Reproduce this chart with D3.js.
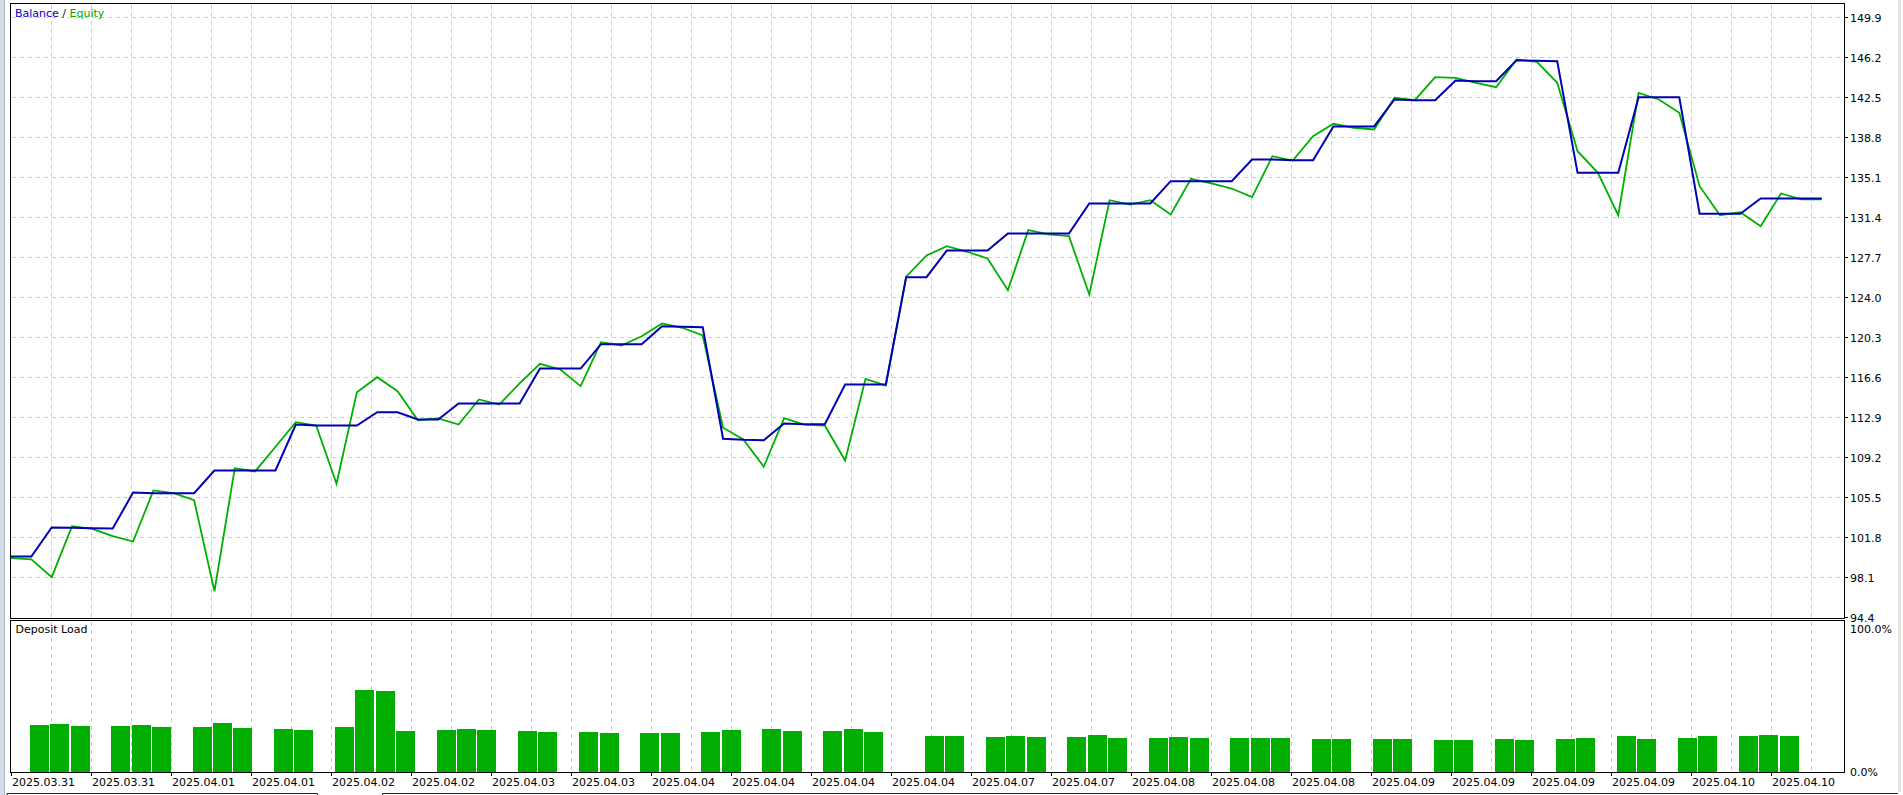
<!DOCTYPE html>
<html><head><meta charset="utf-8">
<script src="https://cdnjs.cloudflare.com/ajax/libs/d3/7.8.5/d3.min.js"></script>
<style>
html,body{margin:0;padding:0;background:#fff;overflow:hidden}
svg{display:block;font-family:"DejaVu Sans",Verdana,sans-serif;font-size:11px}
</style></head><body>
<svg id="c" width="1903" height="795"></svg>
<script>
// ---- data ----
const balance = [
100.04,100.04,102.73,102.70,102.66,102.63,105.96,105.90,105.90,105.90,
108.00,108.00,108.00,108.00,112.25,112.16,112.16,112.16,113.39,113.39,
112.72,112.72,114.20,114.20,114.20,114.20,117.43,117.43,117.43,119.68,
119.68,119.68,121.35,121.29,121.25,110.93,110.84,110.80,112.35,112.28,
112.28,115.95,115.95,115.95,125.88,125.88,128.35,128.35,128.35,129.92,
129.92,129.92,129.92,132.70,132.70,132.70,132.70,134.76,134.76,134.76,
134.76,136.77,136.77,136.70,136.70,139.82,139.82,139.82,142.32,142.25,
142.25,144.07,144.01,144.01,145.95,145.89,145.86,135.53,135.53,135.53,
142.53,142.53,142.53,131.74,131.74,131.74,133.16,133.16,133.16,133.16
];
const equity = [
99.89,99.77,98.13,102.85,102.60,101.92,101.43,106.15,105.90,105.25,
96.83,108.21,107.91,110.19,112.47,112.16,106.77,115.24,116.63,115.33,
112.65,112.81,112.25,114.57,114.10,116.05,117.87,117.34,115.80,119.87,
119.56,120.42,121.60,121.20,120.49,111.95,110.87,108.34,112.84,112.25,
112.16,108.92,116.48,115.86,125.92,127.89,128.75,128.23,127.61,124.68,
130.23,129.83,129.67,124.28,133.00,132.60,133.00,131.68,134.98,134.55,
134.08,133.28,137.07,136.67,138.92,140.07,139.70,139.54,142.47,142.25,
144.38,144.32,143.86,143.45,146.02,145.80,143.86,137.53,135.53,131.61,
142.93,142.32,141.08,134.30,131.61,131.89,130.60,133.62,133.07,133.07
];
const depositLoad = [
0,32.9,33.6,32.2,0,32.2,32.9,31.5,0,31.5,
34.3,30.8,0,30.1,29.4,0,31.5,57.3,56.6,28.7,
0,29.4,30.1,29.4,0,28.7,28.0,0,28.0,27.3,
0,27.3,27.3,0,28.0,29.4,0,30.1,28.7,0,
28.7,30.1,28.0,0,0,25.2,25.2,0,24.5,25.2,
24.5,0,24.5,25.9,23.8,0,23.8,24.5,23.8,0,
23.8,23.8,23.8,0,23.1,23.1,0,23.1,23.1,0,
22.4,22.4,0,23.1,22.4,0,23.1,23.8,0,25.2,
23.1,0,23.8,25.2,0,25.2,25.9,25.2,0,0
];
const yTickLabels = ["149.9","146.2","142.5","138.8","135.1","131.4","127.7","124.0",
  "120.3","116.6","112.9","109.2","105.5","101.8","98.1","94.4"];
const xTickLabels = ["2025.03.31","2025.03.31","2025.04.01","2025.04.01","2025.04.02","2025.04.02",
  "2025.04.03","2025.04.03","2025.04.04","2025.04.04","2025.04.04","2025.04.04",
  "2025.04.07","2025.04.07","2025.04.08","2025.04.08","2025.04.08",
  "2025.04.09","2025.04.09","2025.04.09","2025.04.09","2025.04.10","2025.04.10"];
const loadTickLabels = ["100.0%","0.0%"];
const loadTickValues = [100, 0];

// ---- layout ----
const svg = d3.select("#c");
const PL = 10.5, PR = 1844.5, PT = 3.5, PB = 618.5;   // main panel borders
const DT = 620.5, DB = 772.5;                          // deposit panel borders
const gridStep = 40, labelStep = 80, gridX0 = 11.5;

const x = d3.scaleLinear().domain([0, balance.length - 1]).range([11, 1821.7]);
const yVals = yTickLabels.map(Number);
const y = d3.scaleLinear().domain([d3.min(yVals), d3.max(yVals)]).range([617.5, 17.5]);
const yl = d3.scaleLinear().domain([0, 100]).range([772, 629]);

// window chrome
svg.append("rect").attr("x",0).attr("y",0).attr("width",5).attr("height",795).attr("fill","#d3dde9");
svg.append("line").attr("x1",4.5).attr("x2",4.5).attr("y1",0).attr("y2",795).attr("stroke","#aab4c2");
svg.append("rect").attr("x",1898).attr("y",0).attr("width",3).attr("height",792).attr("fill","#e4e4e4");
svg.append("path").attr("d","M7,795V793.5H317.5V795M382.5,795V793.5H1898").attr("fill","none").attr("stroke","#222");

// grid
const gridXs = d3.range(gridX0 + gridStep, PR - 5, gridStep);
const grid = svg.append("g").attr("stroke","#cbcbcb").attr("stroke-dasharray","4,4").attr("shape-rendering","crispEdges");
grid.selectAll(".gv").data(gridXs).join("line")
  .attr("x1",d=>d).attr("x2",d=>d).attr("y1",PT+1).attr("y2",PB-1);
grid.selectAll(".gv2").data(gridXs).join("line")
  .attr("x1",d=>d).attr("x2",d=>d).attr("y1",DT+1).attr("y2",DB-1);
grid.selectAll(".gh").data(yVals.slice(0,-1)).join("line")
  .attr("x1",PL+1).attr("x2",PR-1).attr("y1",d=>y(d)).attr("y2",d=>y(d));

// deposit load bars
const bw = x(1) - x(0) - 1.3;
svg.append("g").attr("fill","#02ad02").attr("shape-rendering","crispEdges")
  .selectAll("rect").data(depositLoad.map((v,i)=>({v,i})).filter(d=>d.v>0)).join("rect")
  .attr("x",d=>Math.round(x(d.i)-1.5)).attr("width",Math.round(bw))
  .attr("y",d=>Math.round(yl(d.v))).attr("height",d=>yl(0)-Math.round(yl(d.v)));

// lines
const line = d3.line().x((d,i)=>x(i)).y(d=>y(d));
svg.append("path").datum(equity).attr("d",line).attr("fill","none")
  .attr("stroke","#00b000").attr("stroke-width",1.8).attr("stroke-linejoin","miter");
svg.append("path").datum(balance).attr("d",line).attr("fill","none")
  .attr("stroke","#0000b4").attr("stroke-width",2).attr("stroke-linejoin","miter");

// panel borders
svg.append("rect").attr("x",PL).attr("y",PT).attr("width",PR-PL).attr("height",PB-PT)
  .attr("fill","none").attr("stroke","#000");
svg.append("rect").attr("x",PL).attr("y",DT).attr("width",PR-PL).attr("height",DB-DT)
  .attr("fill","none").attr("stroke","#000");

// right y axis (balance/equity)
const ya = svg.append("g");
ya.selectAll("line").data(yVals).join("line")
  .attr("x1",PR).attr("x2",PR+3.5).attr("y1",d=>y(d)).attr("y2",d=>y(d)).attr("stroke","#000");
ya.selectAll("text").data(yTickLabels).join("text")
  .attr("x",1850).attr("y",(d,i)=>y(yVals[i])+4).attr("fill","#000").text(d=>d);

// deposit load axis
svg.append("g").selectAll("text").data(loadTickLabels).join("text")
  .attr("x",1850).attr("y",(d,i)=>yl(loadTickValues[i])+4).attr("fill","#000").text(d=>d);

// x axis
const xTickPx = xTickLabels.map((d,i)=>gridX0 + i*labelStep);
const xa = svg.append("g");
xa.selectAll("line").data(xTickPx).join("line")
  .attr("x1",d=>d).attr("x2",d=>d).attr("y1",DB).attr("y2",DB+3.5).attr("stroke","#000");
xa.selectAll("text").data(xTickLabels).join("text")
  .attr("x",(d,i)=>xTickPx[i]+0.5).attr("y",786).attr("fill","#000").text(d=>d);

// titles
const t = svg.append("text").attr("x",15).attr("y",17);
t.append("tspan").attr("fill","#0000c8").text("Balance");
t.append("tspan").attr("fill","#202020").text(" / ");
t.append("tspan").attr("fill","#00a800").text("Equity");
svg.append("text").attr("x",15.5).attr("y",633).attr("fill","#000").text("Deposit Load");
</script>
</body></html>
